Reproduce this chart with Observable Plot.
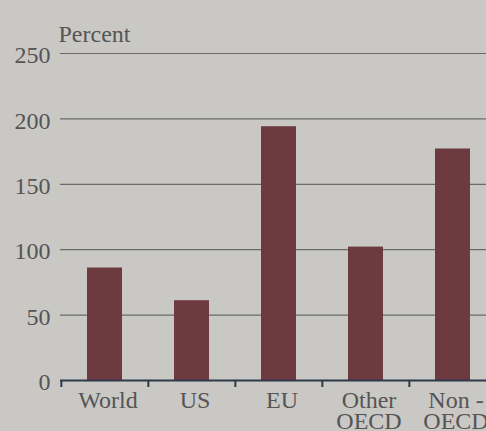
<!DOCTYPE html>
<html>
<head>
<meta charset="utf-8">
<script src="https://cdn.jsdelivr.net/npm/d3@7"></script>
<script src="https://cdn.jsdelivr.net/npm/@observablehq/plot@0.6"></script>
<style>
  html, body { margin: 0; padding: 0; overflow: hidden; background: #c9c8c5; }
  #chart svg { background: transparent !important; display: block; }
</style>
</head>
<body>
<div id="chart"></div>
<script>
const categories = ["World", "US", "EU", "Other OECD", "Non-OECD"];
const tickLabels = ["World", "US", "EU", "Other\nOECD", "Non -\nOECD"];
const values = [86, 61, 194, 102, 177];
const yTicks = [0, 50, 100, 150, 200, 250];
const yLabel = "Percent";

const W = 486, H = 431;
const mTop = 53, mBottom = 51, mLeft = 60;
const xRange = [60, 496.5];
const step = (xRange[1] - xRange[0]) / categories.length;
const font = "Liberation Serif, Times New Roman, serif";
const textColor = "#555555";

const data = categories.map((c, i) => ({cat: c, value: values[i], label: tickLabels[i]}));

const chart = Plot.plot({
  width: W,
  height: H,
  marginTop: mTop,
  marginBottom: mBottom,
  marginLeft: mLeft,
  marginRight: 0,
  style: {background: "transparent", fontFamily: font, fontSize: "24px", color: textColor, overflow: "hidden"},
  x: {domain: categories, range: xRange, paddingInner: 0.6, paddingOuter: 0.3, axis: null},
  y: {domain: [0, 250], axis: null},
  marks: [
    Plot.ruleY(yTicks.filter(d => d > 0), {stroke: "#6a6a6a", strokeWidth: 1.2}),
    Plot.barY(data, {x: "cat", y: "value", fill: "#6c3a3f"}),
    Plot.ruleY([0], {stroke: "#2f3949", strokeWidth: 2}),
    Plot.ruleX(categories, {x: d => d, dx: -step / 2, stroke: "#2f3949", strokeWidth: 2,
      insetTop: H - mTop - mBottom, insetBottom: -7}),
    Plot.text(yTicks, {y: d => d, text: d => String(d), frameAnchor: "left", textAnchor: "end",
      dx: -10, dy: 2, fill: textColor, fontSize: 24}),
    Plot.text(data, {x: "cat", text: "label", frameAnchor: "bottom", lineAnchor: "top",
      dy: 12, dx: 3, lineHeight: 0.9, fill: textColor, fontSize: 24}),
    Plot.text([yLabel], {text: d => d, frameAnchor: "top-left", textAnchor: "start",
      dx: -2, dy: -29, fill: textColor, fontSize: 24})
  ]
});
document.getElementById("chart").append(chart);
</script>
</body>
</html>
